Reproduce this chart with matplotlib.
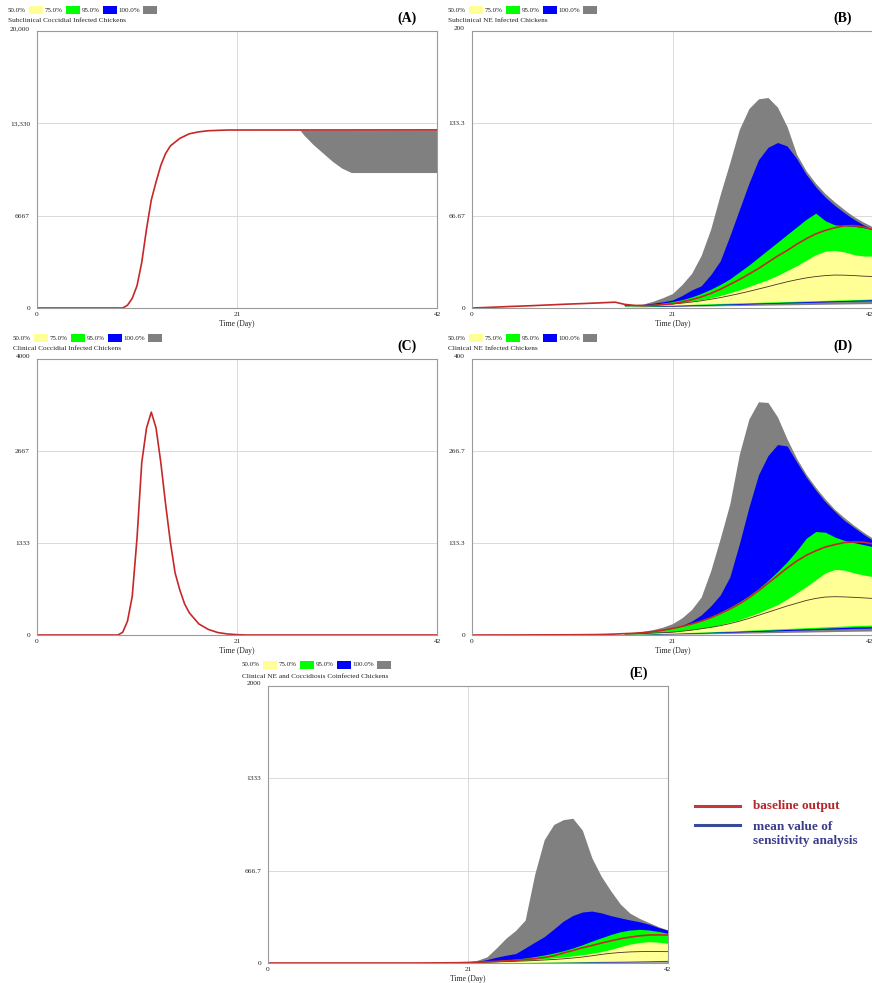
import numpy as np
import matplotlib.pyplot as plt
from matplotlib.patches import Rectangle
from matplotlib.lines import Line2D

plt.rcParams['font.family'] = ['Liberation Serif', 'DejaVu Serif']

W, H = 872, 983

# ---------------- panel A : subclinical coccidial ----------------
a_days = [0, 9, 9.5, 10, 10.5, 11, 11.5, 12, 12.5, 13, 13.5, 14, 15, 16, 17, 18, 20, 42]
a_base = [0, 0, 200, 700, 1600, 3300, 5700, 7800, 9100, 10300, 11150, 11700, 12250, 12580, 12720, 12800, 12850, 12860]
a_band_days = [27.6, 28, 29, 30, 31, 32, 33, 42]
a_band_top = [12860, 12860, 12860, 12860, 12860, 12860, 12860, 12860]
a_band_low = [12860, 12500, 11800, 11200, 10600, 10100, 9780, 9780]

# ---------------- panel C : clinical coccidial ----------------
c_days = [0, 8.5, 9, 9.5, 10, 10.5, 11, 11.5, 12, 12.5, 13, 13.5, 14, 14.5, 15, 15.5, 16, 17, 18, 19, 20, 21, 22, 42]
c_base = [0, 0, 40, 200, 560, 1400, 2500, 3000, 3230, 3000, 2500, 1900, 1350, 900, 650, 450, 320, 160, 80, 35, 15, 5, 0, 0]

# ---------------- panel B : subclinical NE ----------------
b_early_days = [0, 2, 4, 6, 8, 10, 12, 14, 15]
b_early_base = [0, 0.5, 1.1, 1.6, 2.2, 2.8, 3.3, 3.9, 4.2]
b_days = list(range(16, 43))
b_base = [2.6, 1.9, 1.7, 1.9, 2.4, 3.0, 4.4, 6, 8, 10.5, 13.5, 17, 20.5, 24.5, 28.5, 33, 37.5, 41.5, 46, 50, 53.5, 56, 58, 59.3, 59.5, 58.5, 56.5]
b_mean = [1.9, 1.7, 1.8, 2.1, 2.5, 2.9, 3.5, 4.3, 5.2, 6.3, 7.5, 8.9, 10.4, 12, 13.7, 15.4, 17.2, 18.9, 20.4, 21.7, 22.7, 23.4, 23.8, 23.7, 23.4, 23.0, 22.7]
b_gray_top = [2.5, 2.4, 3.0, 5.0, 7.5, 10.5, 17, 25, 38, 57, 82, 105, 129, 144, 151, 152, 145, 131, 111, 99, 90, 82.5, 76.5, 71, 66, 62, 58.5]
b_blue_top = [2.3, 2.2, 2.6, 3.5, 4.5, 5.8, 9, 13, 16, 24, 34, 52, 71, 90, 107, 116, 119.5, 117, 108, 96.5, 87.5, 80, 74, 68.8, 64, 60, 56.5]
b_green_top = [2.2, 2.0, 2.2, 2.8, 3.6, 4.6, 6, 8, 10.5, 13.5, 17, 21, 26, 31, 36.5, 42, 47.5, 53, 58.5, 64, 68.5, 63, 60, 59.5, 59, 58, 56.5]
b_yellow_top = [2.0, 1.8, 2.0, 2.4, 2.8, 3.3, 4.0, 5.0, 6.0, 7.3, 9.0, 11, 13, 15.5, 18, 20.5, 23.5, 27, 30.5, 34.5, 38.5, 41, 41.5, 40.5, 38.5, 37.5, 37.5]
b_yellow_low = [1.6, 1.5, 1.6, 1.8, 2.0, 2.2, 2.4, 2.6, 2.9, 3.1, 3.3, 3.5, 3.7, 3.9, 4.1, 4.3, 4.5, 4.7, 4.9, 5.1, 5.3, 5.5, 5.7, 5.9, 6.1, 6.3, 6.5]
b_green_low = [1.4, 1.3, 1.3, 1.4, 1.6, 1.8, 2.0, 2.2, 2.4, 2.6, 2.8, 3.0, 3.2, 3.4, 3.6, 3.8, 4.0, 4.2, 4.4, 4.6, 4.8, 5.0, 5.2, 5.4, 5.6, 5.8, 6.0]
b_blue_low = [1.2, 1.1, 1.1, 1.2, 1.3, 1.5, 1.6, 1.8, 2.0, 2.2, 2.4, 2.6, 2.7, 2.9, 3.1, 3.3, 3.5, 3.7, 3.8, 4.0, 4.2, 4.4, 4.6, 4.8, 5.0, 5.1, 5.3]
b_gray_low = [1.0, 0.9, 0.9, 1.0, 1.0, 1.1, 1.2, 1.3, 1.4, 1.5, 1.6, 1.7, 1.8, 1.9, 2.0, 2.1, 2.2, 2.3, 2.4, 2.5, 2.6, 2.7, 2.8, 2.9, 3.0, 3.1, 3.2]

# ---------------- panel D : clinical NE ----------------
d_early_days = [0, 5, 10, 13, 14, 15]
d_early_base = [0, 0.1, 0.3, 0.6, 0.9, 1.4]
d_days = list(range(16, 43))
d_base = [2, 2.5, 3.5, 5, 7, 9.5, 12.5, 16, 20, 25, 31, 37.5, 45, 54, 64, 75, 86, 97, 107, 115.5, 122, 127.5, 131, 134, 135, 134.5, 132]
d_mean = [1.5, 1.8, 2.2, 2.8, 3.4, 4, 5.5, 7, 9, 11, 13.5, 16.5, 20, 24, 28.5, 33, 37.5, 42, 46, 50, 53, 55, 55.5, 55.2, 54.6, 53.8, 53]
d_gray_top = [3, 4, 5.5, 8, 11.5, 16.5, 25, 37, 55, 93, 140, 190, 262, 313, 338, 337, 316, 284, 256, 233, 214, 197, 182, 170, 159, 149, 140]
d_blue_top = [2.5, 3, 3.8, 5, 7, 9.5, 14, 20, 29, 42, 58, 84, 132, 185, 232, 260, 276, 274, 251, 229, 210, 193, 179, 166, 156, 146, 137]
d_green_top = [2.2, 2.6, 3.6, 5.2, 7.3, 10, 13, 16.5, 21, 26.5, 33, 40, 48, 57, 67, 79, 92, 106, 122, 140, 150, 149, 142, 137, 134, 131, 128]
d_yellow_top = [1.8, 2, 2.5, 3, 4, 5, 6.5, 8, 10, 12, 15, 18.5, 22, 27, 32, 38, 44, 52, 61, 70, 80, 90, 95, 94, 90, 87, 84.5]
d_yellow_low = [1.2, 1.4, 1.7, 2, 2.4, 2.8, 3.3, 3.8, 4.3, 4.8, 5.3, 5.8, 6.4, 7, 7.6, 8.2, 8.8, 9.4, 10, 10.6, 11.2, 11.8, 12.4, 13, 13.6, 14, 14.5]
d_green_low = [1.0, 1.2, 1.4, 1.7, 2.0, 2.4, 2.8, 3.2, 3.7, 4.1, 4.5, 4.9, 5.4, 5.9, 6.5, 7.0, 7.5, 8.0, 8.5, 9.0, 9.5, 10.0, 10.5, 11.0, 11.6, 11.9, 12.3]
d_blue_low = [0.8, 1.0, 1.2, 1.4, 1.7, 2.0, 2.3, 2.7, 3.0, 3.4, 3.7, 4.1, 4.5, 4.9, 5.3, 5.7, 6.2, 6.6, 7.0, 7.4, 7.8, 8.3, 8.7, 9.1, 9.5, 9.8, 10.2]
d_gray_low = [0.5, 0.6, 0.7, 0.8, 1.0, 1.1, 1.3, 1.5, 1.7, 1.9, 2.1, 2.3, 2.6, 2.8, 3.0, 3.3, 3.5, 3.8, 4.0, 4.2, 4.5, 4.7, 5.0, 5.2, 5.4, 5.6, 5.8]

# ---------------- panel E : NE + coccidiosis coinfected ----------------
e_early_days = [0, 15, 16, 17, 18, 19]
e_early_base = [0, 0, 0.3, 0.6, 1, 1.5]
e_days = list(range(20, 43))
e_base = [2, 4, 6, 9, 12, 16, 20, 25, 31, 40, 52, 72, 90, 110, 126, 144, 160, 175, 187, 196, 202, 203, 202]
e_mean = [1, 2.5, 4, 6, 8, 10, 12.5, 15, 18, 21.5, 25.5, 30, 36, 43, 52, 62, 70, 76, 80, 82, 83, 82.5, 82]
e_gray_top = [3, 8, 20, 45, 110, 180, 235, 310, 640, 890, 1000, 1035, 1045, 960, 760, 625, 520, 425, 360, 322, 292, 262, 238]
e_blue_top = [2, 5, 12, 25, 42, 56, 68, 108, 150, 190, 245, 302, 343, 368, 375, 362, 342, 326, 311, 298, 280, 256, 236]
e_green_top = [3, 6, 9, 13, 17, 22, 28, 36, 46, 58, 72, 88, 108, 132, 158, 182, 206, 226, 238, 243, 238, 228, 214]
e_yellow_top = [1.5, 3, 5, 7.5, 10, 13, 16.5, 20.5, 25, 30, 36, 43, 51, 60, 70, 82, 98, 118, 136, 148, 154, 150, 142]
e_yellow_low = [0.5, 1, 1.5, 2, 2.5, 3, 3.5, 4, 5, 6, 7, 8, 9, 10, 11, 12, 13, 14, 15, 16, 17, 18, 19]
e_green_low = [0.4, 0.8, 1.2, 1.6, 2, 2.5, 3, 3.5, 4, 5, 5.8, 6.5, 7.3, 8, 9, 9.8, 10.5, 11.3, 12, 13, 13.8, 14.5, 15.3]
e_blue_low = [0.3, 0.6, 0.9, 1.2, 1.5, 1.9, 2.2, 2.6, 3, 3.7, 4.3, 4.9, 5.5, 6, 6.7, 7.3, 7.9, 8.5, 9, 9.7, 10.3, 10.9, 11.5]
e_gray_low = [0.1, 0.3, 0.5, 0.6, 0.8, 1, 1.2, 1.4, 1.6, 2, 2.3, 2.6, 2.9, 3.2, 3.5, 3.9, 4.2, 4.5, 4.8, 5.1, 5.5, 5.8, 6.1]

band_names = ["50.0%", "75.0%", "95.0%", "100.0%"]
band_colors = ["#ffff96", "#00ff00", "#0000ff", "#808080"]
RED = "#c62828"
MEAN = "#4a3020"

fig = plt.figure(figsize=(W / 100, H / 100), dpi=100)


def fx(x):
    return x / W


def fy(y):
    return 1 - y / H


def make_axes(left, top, right, bottom, ymax, ylabels, clip_right=False):
    ax = fig.add_axes([fx(left), fy(bottom), (right - left) / W, (bottom - top) / H])
    ax.set_xlim(0, 42)
    ax.set_ylim(0, ymax)
    ax.set_xticks([0, 21, 42])
    ax.set_xticklabels(["0", "21", "42"])
    ax.set_yticks([0, ymax / 3, ymax * 2 / 3, ymax])
    ax.set_yticklabels(ylabels)
    ax.get_yticklabels()[-1].set_va("bottom")
    if clip_right:
        # right end of the axis sits on the picture edge
        ax.get_xticklabels()[-1].set_ha("right")
    ax.tick_params(length=0, labelsize=5.3, colors="#222222")
    ax.tick_params(axis="y", pad=5)
    ax.tick_params(axis="x", pad=3)
    ax.grid(True, color="#d4d4d4", lw=0.6)
    ax.set_axisbelow(True)
    for s in ax.spines.values():
        s.set_color("#9a9a9a")
        s.set_linewidth(0.8)
    ax.set_xlabel("Time (Day)", fontsize=5.5, labelpad=2, color="#222222")
    return ax


def header(x0, top, right, title, tag):
    # the little vensim legend strip plus the variable name
    ly = top - 21
    offs = [(0, 21), (37, 58), (74, 95), (110, 135)]
    for (t_off, b_off), name, col in zip(offs, band_names, band_colors):
        fig.text(fx(x0 + t_off), fy(ly), name, fontsize=5, va="center", ha="left", color="#222222")
        fig.add_artist(Rectangle((fx(x0 + b_off), fy(ly + 4)), 14 / W, 8 / H,
                                 transform=fig.transFigure, facecolor=col, edgecolor="none"))
    fig.text(fx(x0), fy(top - 10), title, fontsize=5.2, va="center", ha="left", color="#222222")
    fig.text(fx(right - 20), fy(top - 13), tag, fontsize=10, fontweight="bold", va="center", ha="right")


def bands(ax, days, lows, tops):
    for low, top, col in zip(lows[::-1], tops[::-1], band_colors[::-1]):
        ax.fill_between(days, low, top, color=col, lw=0)


# panel A
axA = make_axes(37, 31, 437, 308, 20000, ["0", "6667", "13,330", "20,000"])
axA.fill_between(a_band_days, a_band_low, a_band_top, color=band_colors[3], lw=0)
axA.plot(a_days, a_base, color=RED, lw=1.2)
header(8, 31, 437, "Subclinical Coccidial Infected Chickens", "(A)")

# panel B
axB = make_axes(472, 31, 873, 308, 200, ["0", "66.67", "133.3", "200"], clip_right=True)
bands(axB, b_days, [b_yellow_low, b_green_low, b_blue_low, b_gray_low],
      [b_yellow_top, b_green_top, b_blue_top, b_gray_top])
axB.plot(b_days, b_mean, color=MEAN, lw=0.6)
axB.plot(b_early_days + b_days, b_early_base + b_base, color=RED, lw=1.2)
header(448, 31, 872, "Subclinical NE Infected Chickens", "(B)")

# panel C
axC = make_axes(37, 359, 437, 635, 4000, ["0", "1333", "2667", "4000"])
axC.plot(c_days, c_base, color=RED, lw=1.2)
header(13, 359, 437, "Clinical Coccidial Infected Chickens", "(C)")

# panel D
axD = make_axes(472, 359, 873, 635, 400, ["0", "133.3", "266.7", "400"], clip_right=True)
bands(axD, d_days, [d_yellow_low, d_green_low, d_blue_low, d_gray_low],
      [d_yellow_top, d_green_top, d_blue_top, d_gray_top])
axD.plot(d_days, d_mean, color=MEAN, lw=0.6)
axD.plot(d_early_days + d_days, d_early_base + d_base, color=RED, lw=1.2)
header(448, 359, 872, "Clinical NE Infected Chickens", "(D)")

# panel E
axE = make_axes(268, 686, 668, 963, 2000, ["0", "666.7", "1333", "2000"])
bands(axE, e_days, [e_yellow_low, e_green_low, e_blue_low, e_gray_low],
      [e_yellow_top, e_green_top, e_blue_top, e_gray_top])
axE.plot(e_days, e_mean, color=MEAN, lw=0.6)
axE.plot(e_early_days + e_days, e_early_base + e_base, color=RED, lw=1.2)
header(242, 686, 668, "Clinical NE and Coccidiosis Coinfected Chickens", "(E)")

# legend for the line meaning, bottom right
fig.add_artist(Line2D([fx(695), fx(740)], [fy(806), fy(806)], color="#c0393b", lw=2.2))
fig.add_artist(Line2D([fx(695), fx(740)], [fy(825), fy(825)], color="#3a4a9a", lw=2.2))
fig.text(fx(753), fy(806), "baseline output", fontsize=9.5, fontweight="bold", color="#b5252a", va="center")
fig.text(fx(753), fy(834), "mean value of\nsensitivity analysis", fontsize=9.5, fontweight="bold",
         color="#3c3c8c", va="center", linespacing=1.25)

plt.savefig("out.png", dpi=100)
